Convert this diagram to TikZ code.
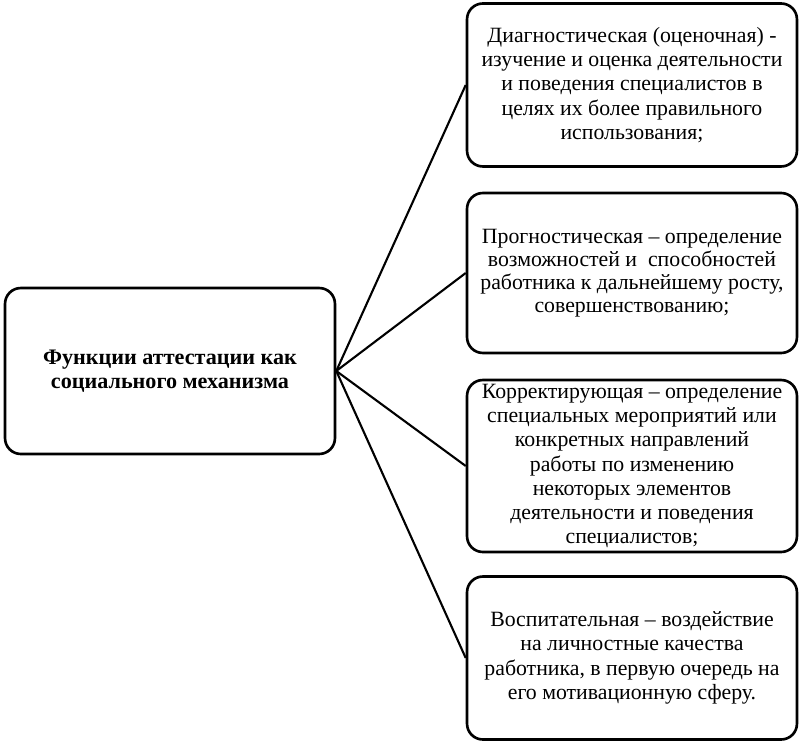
\documentclass[tikz,border=0pt]{standalone}
\usepackage{fontspec}
\setmainfont{Liberation Serif}
\usetikzlibrary{positioning}
\tikzset{
  funcbox/.style={draw, line width=1.5pt, rounded corners=9pt, align=center,
    minimum width=6.6cm, inner sep=1pt, font=\fontsize{12.4}{13.8}\selectfont},
  mainbox/.style={funcbox, font=\bfseries\fontsize{12.6}{13.6}\selectfont},
  link/.style={line width=1.2pt}
}

\begin{document}
\begin{tikzpicture}[x=0.02cm, y=-0.02cm]
        \useasboundingbox (0,0) rectangle (804,746);

        % Центральный блок
        \node[mainbox, minimum height=3.32cm] (func) at (170,371)
          {Функции аттестации как\\социального механизма};

        % Функции справа
        \node[funcbox, minimum height=3.26cm] (diag) at (632,85)
          {Диагностическая (оценочная) -\\изучение и оценка деятельности\\и поведения специалистов в\\целях их более правильного\\использования;};
        \node[funcbox, minimum height=3.2cm, font=\fontsize{12.4}{13}\selectfont] (prog) at (632,273)
          {Прогностическая -- определение\\возможностей и\ \ способностей\\работника к дальнейшему росту,\\совершенствованию;};
        \node[funcbox, minimum height=3.44cm] (korr) at (632,466)
          {Корректирующая -- определение\\специальных мероприятий или\\конкретных направлений\\работы по изменению\\некоторых элементов\\деятельности и поведения\\специалистов;};
        \node[funcbox, minimum height=3.26cm] (vosp) at (632,658)
          {Воспитательная -- воздействие\\на личностные качества\\работника, в первую очередь на\\его мотивационную сферу.};

        % Связи
        \foreach \f in {diag, prog, korr, vosp}
          \draw[link] (func.east) -- (\f.west);
    \end{tikzpicture}
\end{document}
